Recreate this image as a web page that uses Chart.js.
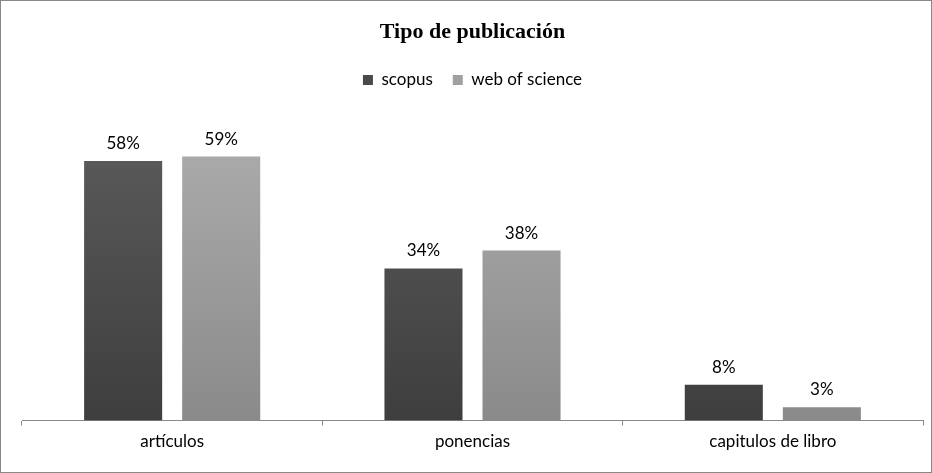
<!DOCTYPE html>
<html><head><meta charset="utf-8">
<script src="https://cdn.jsdelivr.net/npm/chart.js@4"></script>
<style>
html,body{margin:0;padding:0;background:#fff}
#wrap{position:absolute;left:0;top:0;width:930px;height:471px;border:1px solid #888;}
</style></head><body>
<div id="wrap"><canvas id="c" width="930" height="471"></canvas></div>
<script>
const categories = ["artículos", "ponencias", "capitulos de libro"];
const scopus = [58, 34, 8];
const wos = [59, 38, 3];
const seriesNames = ["scopus", "web of science"];

function grad(ctx, top, bottom) {
  const c = ctx.chart, a = c.chartArea;
  if (!a) return top;
  const g = c.ctx.createLinearGradient(0, a.top, 0, a.bottom);
  g.addColorStop(0, top); g.addColorStop(1, bottom);
  return g;
}
const labelPlugin = {
  id: 'lbl',
  afterDatasetsDraw(chart) {
    const ctx = chart.ctx;
    ctx.save();
    ctx.font = '17px Lato, "Noto Sans", sans-serif';
    ctx.fillStyle = '#000'; ctx.textAlign = 'center'; ctx.textBaseline = 'bottom';
    chart.data.datasets.forEach((ds, i) => {
      chart.getDatasetMeta(i).data.forEach((bar, j) => {
        ctx.fillText(ds.data[j] + '%', bar.x, bar.y - 9);
      });
    });
    ctx.restore();
  }
};
new Chart(document.getElementById('c'), {
  type: 'bar',
  data: {
    labels: categories,
    datasets: [
      { label: seriesNames[0], data: scopus,
        backgroundColor: c => grad(c, '#5e5e5e', '#3e3e3e'), borderWidth: 0 },
      { label: seriesNames[1], data: wos,
        backgroundColor: c => grad(c, '#b0b0b0', '#8a8a8a'), borderWidth: 0 }
    ]
  },
  options: {
    responsive: false, animation: false,
    categoryPercentage: 0.653, barPercentage: 0.796,
    layout: { padding: { left: 21, right: 8, top: 4, bottom: 14 } },
    plugins: {
      title: { display: true, text: 'Tipo de publicación', color: '#000',
        font: { family: '"Liberation Serif", serif', size: 22, weight: 'bold' }, padding: { top: 14, bottom: 6 } },
      legend: { labels: { boxWidth: 10, boxHeight: 10, color: '#000', padding: 20,
        font: { family: 'Lato, "Noto Sans", sans-serif', size: 17 },
        generateLabels: ch => ch.data.datasets.map((d, i) => ({ text: d.label, fillStyle: i ? '#a0a0a0' : '#4a4a4a', strokeStyle: 'transparent', lineWidth: 0, datasetIndex: i })) } },
      tooltip: { enabled: false }
    },
    scales: {
      x: { grid: { drawOnChartArea: false, color: '#888', tickLength: 5 }, border: { color: '#888' },
        ticks: { color: '#000', font: { family: 'Lato, "Noto Sans", sans-serif', size: 17 }, padding: 6 } },
      y: { display: false, min: 0, max: 72 }
    }
  },
  plugins: [labelPlugin]
});
</script></body></html>
